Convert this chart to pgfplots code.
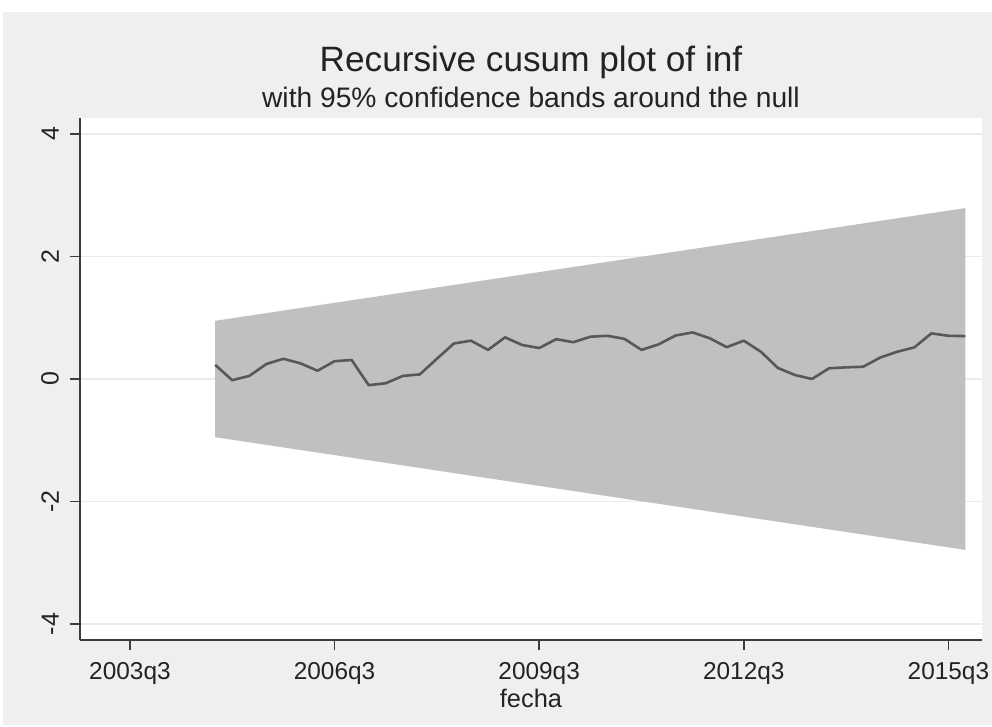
\documentclass[border=0pt]{standalone}
\usepackage{fontspec}
\setmainfont{Liberation Sans}
\usepackage{pgfplots}
\pgfplotsset{compat=1.18}
\definecolor{bggray}{RGB}{239,239,239}
\definecolor{bandgray}{RGB}{192,192,192}
\definecolor{linegray}{RGB}{88,88,88}
\definecolor{gridgray}{RGB}{234,234,234}
\definecolor{axgray}{RGB}{60,60,60}
\definecolor{txtgray}{RGB}{35,35,35}
\begin{document}
\begin{tikzpicture}
\useasboundingbox (-40pt,-43.5pt) rectangle (456pt,320pt);
\fill[white] (-40pt,-43.5pt) rectangle (456pt,320pt);
\fill[bggray] (-38.5pt,-42.5pt) rectangle (456pt,314pt);
\begin{axis}[
  at={(0pt,0pt)}, anchor=south west, scale only axis,
  width=451pt, height=261pt,
  xmin=-2.93, xmax=49.97, ymin=-4.26, ymax=4.26,
  axis x line*=bottom, axis y line*=left,
  axis line style={axgray, line width=0.75pt, -},
  axis background/.style={fill=white},
  xtick={0,12,24,36,48},
  xticklabels={2003q3,2006q3,2009q3,2012q3,2015q3},
  ytick={-4,-2,0,2,4},
  yticklabels={-4,-2,0,2,4},
  tick align=outside, major tick length=5pt,
  tick style={axgray, line width=0.75pt},
  ymajorgrids, major grid style={gridgray, line width=0.7pt},
  xticklabel style={font=\fontsize{12.2}{14}\selectfont, text=txtgray, anchor=base, yshift=-15pt},
  yticklabel style={font=\fontsize{12.5}{14}\selectfont, text=txtgray, xshift=-2pt, rotate=90, anchor=south},
]
\addplot[fill=bandgray, draw=none] coordinates {(5,0.95) (49,2.79) (49,-2.79) (5,-0.95)} -- cycle;
\addplot[linegray, line width=1.3pt, line join=round] coordinates {
(5,0.23) (6,-0.02) (7,0.05) (8,0.245) (9,0.33) (10,0.255) (11,0.135) (12,0.29)
(13,0.31) (14,-0.10) (15,-0.07) (16,0.05) (17,0.075) (18,0.33) (19,0.58) (20,0.625)
(21,0.475) (22,0.68) (23,0.555) (24,0.505) (25,0.65) (26,0.60) (27,0.69) (28,0.705)
(29,0.655) (30,0.475) (31,0.565) (32,0.71) (33,0.76) (34,0.665) (35,0.52) (36,0.625)
(37,0.445) (38,0.18) (39,0.065) (40,0.0) (41,0.175) (42,0.19) (43,0.20) (44,0.35)
(45,0.445) (46,0.515) (47,0.745) (48,0.705) (49,0.70)};
\end{axis}
\node[anchor=base, text=txtgray, font=\fontsize{17.6}{20}\selectfont] at (225.5pt,284pt) {Recursive cusum plot of inf};
\node[anchor=base, text=txtgray, font=\fontsize{14.1}{16}\selectfont] at (225.5pt,266pt) {with 95\% confidence bands around the null};
\node[anchor=base, text=txtgray, font=\fontsize{12.7}{14}\selectfont] at (225.5pt,-34pt) {fecha};
\end{tikzpicture}
\end{document}
